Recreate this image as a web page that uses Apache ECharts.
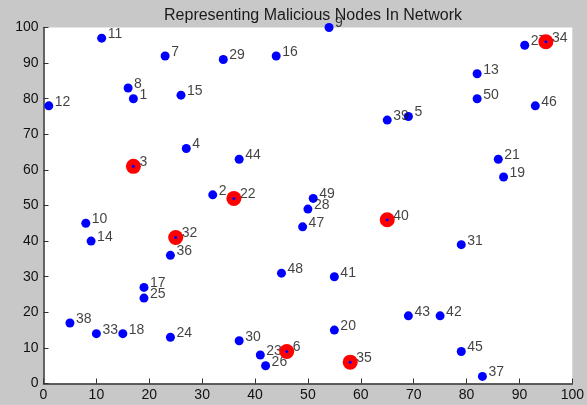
<!DOCTYPE html>
<html>
<head>
<meta charset="utf-8">
<script src="https://cdn.jsdelivr.net/npm/echarts@6/dist/echarts.min.js"></script>
<style>
html,body{margin:0;padding:0;background:#c8c8c8;}
#chart{width:587px;height:405px;}
</style>
</head>
<body>
<div id="chart"></div>
<script>
// Node data
var nodeIds = [1,2,3,4,5,6,7,8,9,10,11,12,13,14,15,16,17,18,19,20,21,22,23,24,25,26,27,28,29,30,31,32,33,34,35,36,37,38,39,40,41,42,43,44,45,46,47,48,49,50];
var nodeX = [17,32,17,27,69,46,23,16,54,8,11,1,82,9,26,44,19,15,87,55,86,36,41,24,19,42,91,50,34,37,79,25,10,95,58,24,83,5,65,65,55,75,69,37,79,93,49,45,51,82];
var nodeY = [80,53,61,66,75,9,92,83,100,45,97,78,87,40,81,92,27,14,58,15,63,52,8,13,24,5,95,49,91,12,39,41,14,96,6,36,2,17,74,46,30,19,19,63,9,78,44,31,52,80];
var maliciousIds = [3,6,22,32,34,35,40];
var xTicks = [0,10,20,30,40,50,60,70,80,90,100];
var yTicks = [0,10,20,30,40,50,60,70,80,90,100];
var titleText = 'Representing Malicious Nodes In Network';

var allPts = nodeIds.map(function(id,i){ return [nodeX[i], nodeY[i], id]; });
var malPts = allPts.filter(function(p){ return maliciousIds.indexOf(p[2]) >= 0; });

var font = 'Liberation Sans, Arial, sans-serif';
var chart = echarts.init(document.getElementById('chart'), null, {renderer:'canvas'});
chart.setOption({
  backgroundColor: '#c8c8c8',
  animation: false,
  title: {
    text: titleText,
    left: 308, top: 3, textAlign: 'center',
    textStyle: {fontFamily: font, fontWeight: 'normal', fontSize: 16, color: '#1a1a1a'}
  },
  grid: {left: 43.5, top: 27.5, right: 12.5, bottom: 21.5, show: true, backgroundColor: '#ffffff', borderWidth: 0},
  xAxis: {
    type: 'value', min: 0, max: 100, interval: 10,
    axisLine: {show: true, onZero: false, lineStyle: {color: '#333333', width: 1.5}},
    axisTick: {show: true, inside: true, length: 5, lineStyle: {color: '#333333'}},
    axisLabel: {fontFamily: font, fontSize: 14, color: '#111111', margin: 5,
      formatter: function(v){ return xTicks.indexOf(v) >= 0 ? String(v) : ''; }},
    splitLine: {show: false}
  },
  yAxis: {
    type: 'value', min: 0, max: 100, interval: 10,
    axisLine: {show: true, onZero: false, lineStyle: {color: '#333333', width: 1.5}},
    axisTick: {show: true, inside: true, length: 5, lineStyle: {color: '#333333'}},
    axisLabel: {fontFamily: font, fontSize: 14, color: '#111111', margin: 5,
      formatter: function(v){ return yTicks.indexOf(v) >= 0 ? String(v) : ''; }},
    splitLine: {show: false}
  },
  series: [
    {
      type: 'scatter', data: allPts, symbol: 'circle', symbolSize: 9, z: 2,
      itemStyle: {color: '#0000ff', opacity: 1}, silent: true
    },
    {
      type: 'scatter', data: allPts, symbolSize: 0, z: 3, silent: true,
      label: {show: true, position: 'right', distance: 6, offset: [0, -4],
        formatter: function(p){ return String(p.data[2]); },
        fontFamily: font, fontSize: 14, color: '#111111'}
    },
    {
      type: 'scatter', data: malPts, symbol: 'circle', symbolSize: 15, z: 4,
      itemStyle: {color: '#ff0000', opacity: 1}, silent: true
    },
    {
      type: 'scatter', data: malPts, symbol: 'circle', symbolSize: 3, z: 5,
      itemStyle: {color: '#0000ff', opacity: 1}, silent: true
    }
  ]
});
</script>
</body>
</html>
